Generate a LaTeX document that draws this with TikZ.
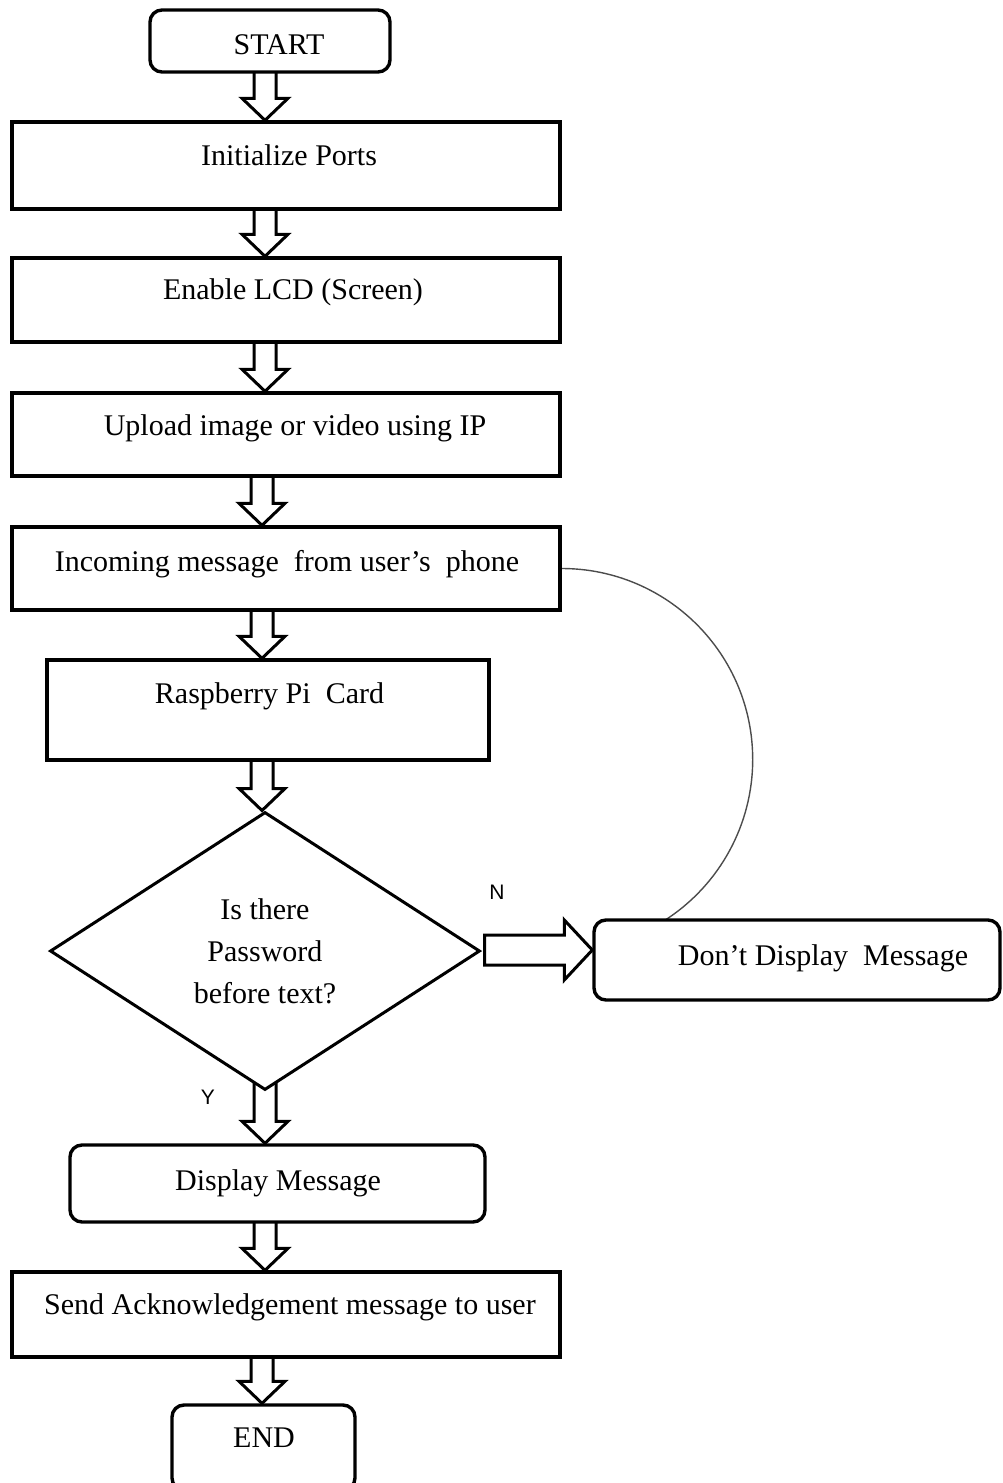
\documentclass[tikz,border=0pt]{standalone}
\usepackage{fontspec}
\setmainfont{Liberation Serif}
\newfontfamily\yesnofont{Liberation Sans}
\usetikzlibrary{shapes.geometric,backgrounds,calc}

\tikzset{
  box/.style={draw, line width=3.4pt, fill=white, inner sep=0pt},
  procbox/.style={box, rectangle},
  termbox/.style={box, rectangle, rounded corners=12pt},
  decision/.style={draw, line width=3pt, fill=white, diamond, inner sep=0pt,
    minimum width=430pt, minimum height=278pt, aspect=1.55, align=center,
    font=\fontsize{30}{42}\selectfont},
  txt/.style={inner sep=0pt, anchor=base, font=\fontsize{30}{42}\selectfont},
  yn/.style={inner sep=0pt, font=\yesnofont\fontsize{21}{24}\selectfont},
  blockarrow/.style={draw, line width=3pt, fill=white, line join=miter},
  loopline/.style={draw=black!70, line width=1.4pt},
}

% hollow block arrow pointing down: x position, upper node, lower node, overlap into upper node
\newcommand\vflow[4]{%
  \draw[blockarrow] let \p1=(#2.south), \p2=(#3.north) in
    (#1pt-11pt,\y1+#4pt) -- (#1pt-11pt,\y2+22pt) -- (#1pt-23pt,\y2+22pt) -- (#1pt,\y2)
    -- (#1pt+23pt,\y2+22pt) -- (#1pt+11pt,\y2+22pt) -- (#1pt+11pt,\y1+#4pt);}

% hollow block arrow pointing right: y position, left node, right node
\newcommand\hflow[3]{%
  \draw[blockarrow] let \p1=(#2.east), \p2=(#3.west) in
    (\x1+3pt,#1pt-15pt) -- (\x2-28pt,#1pt-15pt) -- (\x2-28pt,#1pt-30pt) -- (\x2,#1pt)
    -- (\x2-28pt,#1pt+30pt) -- (\x2-28pt,#1pt+15pt) -- (\x1+3pt,#1pt+15pt) -- cycle;}

\begin{document}
\begin{tikzpicture}[x=1pt, y=1pt]
\useasboundingbox (0,0) rectangle (1002,-1483);

% boxes
\node[termbox, minimum width=240pt, minimum height=62pt] (start) at (270,-41) {};
\node[procbox, minimum width=548pt, minimum height=87pt] (init) at (286,-165.5) {};
\node[procbox, minimum width=548pt, minimum height=84pt] (lcd) at (286,-300) {};
\node[procbox, minimum width=548pt, minimum height=83pt] (upload) at (286,-434.5) {};
\node[procbox, minimum width=548pt, minimum height=83pt] (incoming) at (286,-568.5) {};
\node[procbox, minimum width=442pt, minimum height=100pt] (rpi) at (268,-710) {};
\node[decision] (pwd) at (265,-951) {Is there\\Password\\before text?};
\node[termbox, minimum width=406pt, minimum height=80pt] (dont) at (797,-960) {};
\node[termbox, minimum width=415pt, minimum height=77pt] (display) at (277.5,-1183.5) {};
\node[procbox, minimum width=548pt, minimum height=85pt] (send) at (286,-1314.5) {};
\node[termbox, minimum width=183pt, minimum height=85pt] (end) at (263.5,-1447.5) {};

% box texts
\node[txt] (startT) at (279,-54) {START};
\node[txt] (initT) at (289,-165) {Initialize Ports};
\node[txt] (lcdT) at (293,-299) {Enable LCD (Screen)};
\node[txt] (uploadT) at (295,-435) {Upload image or video using IP};
\node[txt] (incomingT) at (287,-571) {Incoming message\ \ from user’s\ \ phone};
\node[txt] (rpiT) at (269.5,-703) {Raspberry Pi\ \ Card};
\node[txt] (dontT) at (823,-965) {Don’t Display\ \ Message};
\node[txt] (displayT) at (278,-1190) {Display Message};
\node[txt] (sendT) at (290,-1314) {Send Acknowledgement message to user};
\node[txt] (endT) at (264,-1447) {END};

% branch labels
\node[yn] (nlabel) at (497,-892) {N};
\node[yn] (ylabel) at (208,-1097) {Y};

\begin{pgfonlayer}{background}
  \vflow{265}{start}{init}{4}
  \vflow{265}{init}{lcd}{4}
  \vflow{265}{lcd}{upload}{4}
  \vflow{262}{upload}{incoming}{4}
  \vflow{262}{incoming}{rpi}{4}
  \vflow{262}{rpi}{pwd}{4}
  \vflow{265}{pwd}{display}{14}
  \vflow{265}{display}{send}{4}
  \vflow{262}{send}{end}{4}
  \hflow{-950}{pwd}{dont}
  \draw[loopline] (incoming.east) arc[start angle=90, end angle=-57, radius=191pt];
\end{pgfonlayer}
\end{tikzpicture}
\end{document}
